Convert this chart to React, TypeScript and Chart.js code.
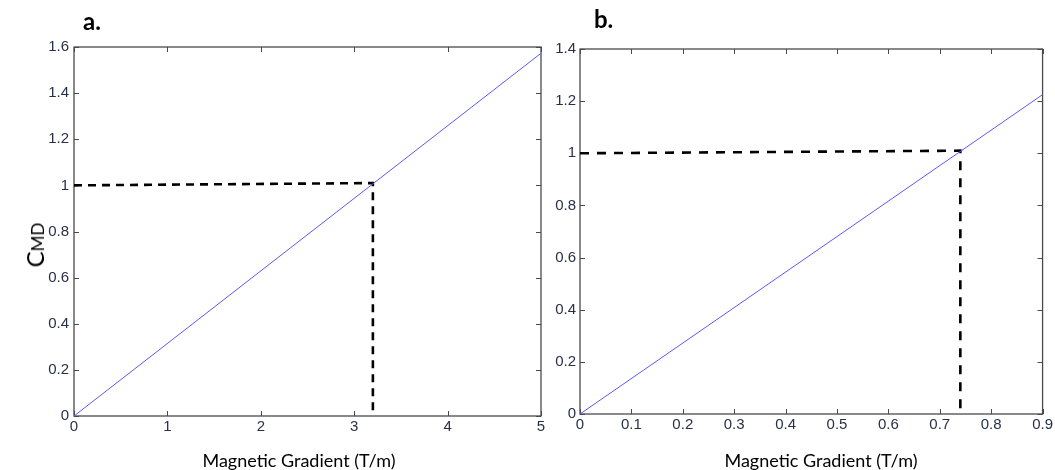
import React, { useEffect, useRef } from "react";
import { Chart, registerables } from "chart.js";

Chart.register(...registerables);

// ---------- Data (panel a) ----------
const lineAX = [0, 5];
const lineAY = [0, 1.573];
const dashAX = [0, 3.2, 3.2];
const dashAY = [1.0, 1.01, 0];
const xTicksA = [0, 1, 2, 3, 4, 5];
const yTicksA = [0, 0.2, 0.4, 0.6, 0.8, 1, 1.2, 1.4, 1.6];

// ---------- Data (panel b) ----------
const lineBX = [0, 0.9];
const lineBY = [0, 1.225];
const dashBX = [0, 0.74, 0.74];
const dashBY = [1.0, 1.01, 0];
const xTicksB = [0, 0.1, 0.2, 0.3, 0.4, 0.5, 0.6, 0.7, 0.8, 0.9];
const yTicksB = [0, 0.2, 0.4, 0.6, 0.8, 1, 1.2, 1.4];

const xTitle = "Magnetic Gradient (T/m)";
const panelLabels = ["a.", "b."];

const TICK_COLOR = "#283048";
const FRAME_COLOR = "#4a4a4a";
const LINE_COLOR = "#5a5af5";

const fmt = (v: number) => String(Number(v.toFixed(2)));

const zip = (xs: number[], ys: number[]) => xs.map((x, i) => ({ x, y: ys[i] }));

const framePlugin = {
  id: "matlabFrame",
  beforeDatasetsDraw(chart: any) {
    const { ctx, chartArea } = chart;
    const { left, right, top, bottom } = chartArea;
    const xs = chart.scales.x;
    const ys = chart.scales.y;
    const tl = 5;
    ctx.save();
    ctx.strokeStyle = FRAME_COLOR;
    ctx.lineWidth = 1.3;
    ctx.strokeRect(left, top, right - left, bottom - top);
    ctx.lineWidth = 1;
    ctx.beginPath();
    xs.ticks.forEach((t: any) => {
      const px = Math.round(xs.getPixelForValue(t.value)) + 0.5;
      ctx.moveTo(px, bottom);
      ctx.lineTo(px, bottom - tl);
      ctx.moveTo(px, top);
      ctx.lineTo(px, top + tl);
    });
    ys.ticks.forEach((t: any) => {
      const py = Math.round(ys.getPixelForValue(t.value)) + 0.5;
      ctx.moveTo(left, py);
      ctx.lineTo(left + tl, py);
      ctx.moveTo(right, py);
      ctx.lineTo(right - tl, py);
    });
    ctx.stroke();
    ctx.restore();
  },
};

type PanelCfg = {
  lineX: number[];
  lineY: number[];
  dashX: number[];
  dashY: number[];
  xTicks: number[];
  yTicks: number[];
  dash: number[];
  padTop: number;
  padRight: number;
  yWidth: number;
  xHeight: number;
  yPad: number;
};

function makeChart(canvas: HTMLCanvasElement, c: PanelCfg) {
  const tickFont = { family: "'Liberation Sans', Arial, sans-serif", size: 15 };
  return new Chart(canvas, {
    type: "scatter",
    data: {
      datasets: [
        {
          data: zip(c.lineX, c.lineY),
          showLine: true,
          borderColor: LINE_COLOR,
          borderWidth: 1,
          pointRadius: 0,
        },
        {
          data: zip(c.dashX, c.dashY),
          showLine: true,
          borderColor: "#000000",
          borderWidth: 2.6,
          borderDash: c.dash,
          pointRadius: 0,
        },
      ],
    },
    options: {
      animation: false,
      responsive: false,
      maintainAspectRatio: false,
      layout: { padding: { top: c.padTop, right: c.padRight, left: 0, bottom: 0 } },
      plugins: { legend: { display: false }, tooltip: { enabled: false } },
      scales: {
        x: {
          type: "linear",
          min: c.xTicks[0],
          max: c.xTicks[c.xTicks.length - 1],
          grid: { display: false, drawTicks: false, tickLength: 0 },
          border: { display: false },
          ticks: {
            color: TICK_COLOR,
            font: tickFont,
            padding: 2,
            maxRotation: 0,
            autoSkip: false,
            callback: (v: any) => fmt(Number(v)),
          },
          afterBuildTicks: (s: any) => {
            s.ticks = c.xTicks.map((v) => ({ value: v }));
          },
          afterFit: (s: any) => {
            s.height = c.xHeight;
          },
        },
        y: {
          type: "linear",
          min: c.yTicks[0],
          max: c.yTicks[c.yTicks.length - 1],
          grid: { display: false, drawTicks: false, tickLength: 0 },
          border: { display: false },
          ticks: {
            color: TICK_COLOR,
            font: tickFont,
            padding: c.yPad,
            autoSkip: false,
            callback: (v: any) => fmt(Number(v)),
          },
          afterBuildTicks: (s: any) => {
            s.ticks = c.yTicks.map((v) => ({ value: v }));
          },
          afterFit: (s: any) => {
            s.width = c.yWidth;
          },
        },
      },
    },
    plugins: [framePlugin],
  } as any);
}

export default function App() {
  const refA = useRef<HTMLCanvasElement>(null);
  const refB = useRef<HTMLCanvasElement>(null);

  useEffect(() => {
    document.body.style.margin = "0";
    const a = makeChart(refA.current!, {
      lineX: lineAX,
      lineY: lineAY,
      dashX: dashAX,
      dashY: dashAY,
      xTicks: xTicksA,
      yTicks: yTicksA,
      dash: [8, 6],
      padTop: 47,
      padRight: 14,
      yWidth: 74,
      xHeight: 54,
      yPad: 5,
    });
    const b = makeChart(refB.current!, {
      lineX: lineBX,
      lineY: lineBY,
      dashX: dashBX,
      dashY: dashBY,
      xTicks: xTicksB,
      yTicks: yTicksB,
      dash: [9, 8],
      padTop: 49,
      padRight: 12,
      yWidth: 40,
      xHeight: 56,
      yPad: 4,
    });
    return () => {
      a.destroy();
      b.destroy();
    };
  }, []);

  const titleFont = "Lato, 'Open Sans', sans-serif";

  return (
    <div style={{ position: "relative", width: 1055, height: 470, background: "#fff", overflow: "hidden" }}>
      <canvas ref={refA} width={555} height={470} style={{ position: "absolute", left: 0, top: 0 }} />
      <canvas ref={refB} width={515} height={470} style={{ position: "absolute", left: 540, top: 0 }} />
      <div style={{ position: "absolute", left: 83, top: 6, fontFamily: titleFont, fontWeight: 700, fontSize: 24, color: "#000" }}>
        {panelLabels[0]}
      </div>
      <div style={{ position: "absolute", left: 594, top: 4, fontFamily: titleFont, fontWeight: 700, fontSize: 24, color: "#000" }}>
        {panelLabels[1]}
      </div>
      <div
        style={{
          position: "absolute",
          left: 199,
          width: 200,
          top: 449,
          textAlign: "center",
          fontFamily: titleFont,
          fontSize: 18,
          color: "#000",
          whiteSpace: "nowrap",
        }}
      >
        {xTitle}
      </div>
      <div
        style={{
          position: "absolute",
          left: 721,
          width: 200,
          top: 449,
          textAlign: "center",
          fontFamily: titleFont,
          fontSize: 18,
          color: "#000",
          whiteSpace: "nowrap",
        }}
      >
        {xTitle}
      </div>
      <div
        style={{
          position: "absolute",
          left: 35,
          top: 245,
          transform: "translate(-50%, -50%) rotate(-90deg)",
          fontFamily: titleFont,
          color: "#000",
          whiteSpace: "nowrap",
          lineHeight: 1,
        }}
      >
        <span style={{ fontSize: 24 }}>C</span>
        <span style={{ fontSize: 17 }}>MD</span>
      </div>
    </div>
  );
}
